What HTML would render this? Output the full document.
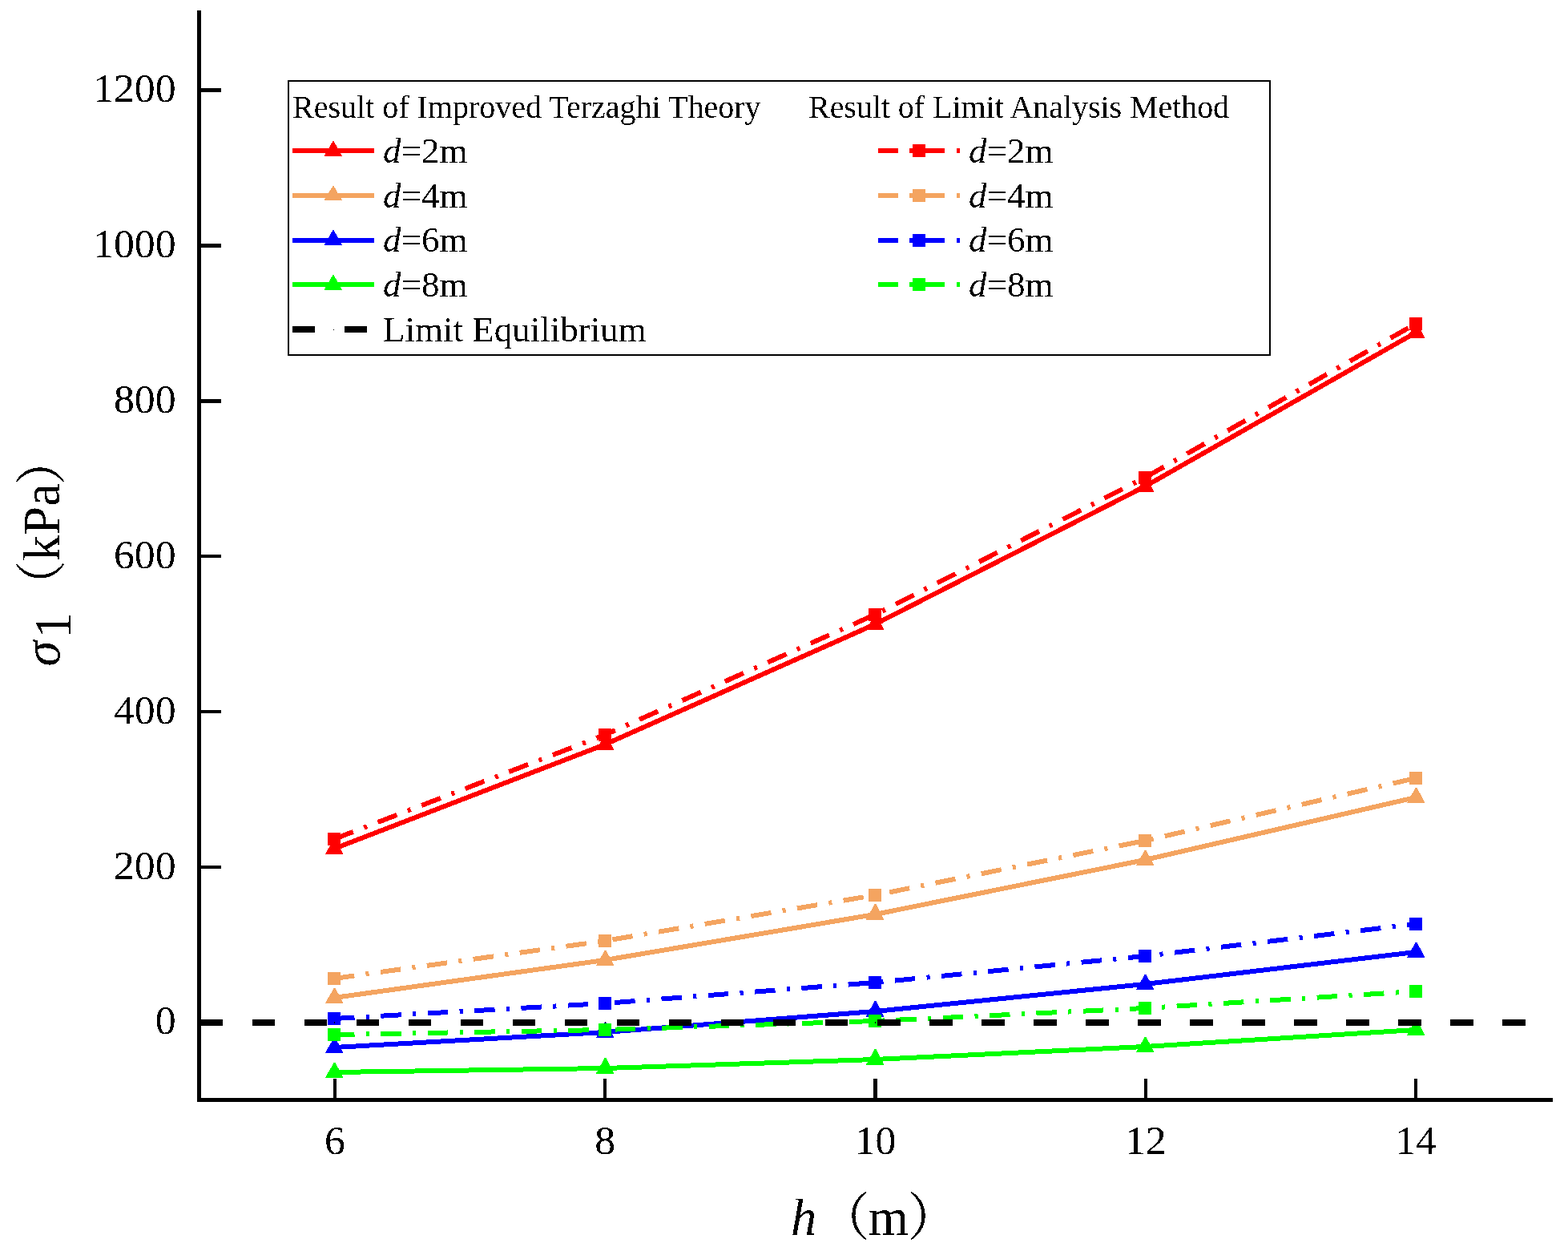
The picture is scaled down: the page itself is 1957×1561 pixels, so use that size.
<!DOCTYPE html>
<html lang="en"><head><meta charset="utf-8"><title>Surrounding rock pressure versus tunnel depth</title>
<style>html,body{margin:0;padding:0;width:1957px;height:1561px;overflow:hidden;background:#fff}svg{display:block}text{font-family:'Liberation Serif',serif;fill:#000}.i{font-style:italic}.cjk{font-family:'Liberation Serif','Noto Serif CJK SC',serif}</style></head><body>
<svg width="1957" height="1561" viewBox="0 0 1957 1561">
<defs><filter id="bin" x="0" y="0" width="1957" height="1561" filterUnits="userSpaceOnUse" color-interpolation-filters="sRGB"><feComponentTransfer><feFuncA type="discrete" tableValues="0 1"/></feComponentTransfer></filter></defs>
<rect width="1957" height="1561" fill="#fff"/>
<g shape-rendering="crispEdges" fill="#000">
<rect x="246" y="13" width="5" height="1362"/>
<rect x="246" y="1370" width="1692" height="5"/>
<rect x="251" y="110" width="25" height="5"/>
<rect x="251" y="304" width="25" height="5"/>
<rect x="251" y="498" width="25" height="5"/>
<rect x="251" y="692" width="25" height="4"/>
<rect x="251" y="886" width="25" height="4"/>
<rect x="251" y="1080" width="25" height="4"/>
<rect x="251" y="1274" width="25" height="4"/>
<rect x="416" y="1346" width="4" height="24"/>
<rect x="753" y="1346" width="4" height="24"/>
<rect x="1090" y="1346" width="5" height="24"/>
<rect x="1428" y="1346" width="4" height="24"/>
<rect x="1765" y="1346" width="4" height="24"/>
</g>
<g shape-rendering="crispEdges">
<polyline points="417,1059 755,929 1092,779 1429,607 1767,415" fill="none" stroke="#ff0000" stroke-width="6"/>
<polygon points="416.78,1047 418.59,1047 428.565,1066 405.665,1066" fill="#ff0000"/>
<polygon points="754.78,917 756.59,917 766.565,936 743.665,936" fill="#ff0000"/>
<polygon points="1091.78,767 1093.59,767 1103.565,786 1080.665,786" fill="#ff0000"/>
<polygon points="1428.78,595 1430.59,595 1440.565,614 1417.665,614" fill="#ff0000"/>
<polygon points="1766.78,403 1768.59,403 1778.565,422 1755.665,422" fill="#ff0000"/>
<polyline points="417,1245 755,1198 1092,1141 1429,1073 1767,995" fill="none" stroke="#f4a460" stroke-width="6"/>
<polygon points="416.78,1233 418.59,1233 428.565,1252 405.665,1252" fill="#f4a460"/>
<polygon points="754.78,1186 756.59,1186 766.565,1205 743.665,1205" fill="#f4a460"/>
<polygon points="1091.78,1128 1093.59,1128 1103.565,1148 1080.665,1148" fill="#f4a460"/>
<polygon points="1428.78,1061 1430.59,1061 1440.565,1080 1417.665,1080" fill="#f4a460"/>
<polygon points="1766.78,983 1768.59,983 1778.565,1002 1755.665,1002" fill="#f4a460"/>
<polyline points="417,1307 755,1288 1092,1262 1429,1228 1767,1188" fill="none" stroke="#0000ff" stroke-width="6"/>
<polygon points="416.78,1295 418.59,1295 428.565,1314 405.665,1314" fill="#0000ff"/>
<polygon points="754.78,1276 756.59,1276 766.565,1295 743.665,1295" fill="#0000ff"/>
<polygon points="1091.78,1249 1093.59,1249 1103.565,1269 1080.665,1269" fill="#0000ff"/>
<polygon points="1428.78,1216 1430.59,1216 1440.565,1235 1417.665,1235" fill="#0000ff"/>
<polygon points="1766.78,1176 1768.59,1176 1778.565,1195 1755.665,1195" fill="#0000ff"/>
<polyline points="417,1338 755,1333 1092,1322 1429,1306 1767,1285" fill="none" stroke="#00ff00" stroke-width="6"/>
<polygon points="416.78,1326 418.59,1326 428.565,1345 405.665,1345" fill="#00ff00"/>
<polygon points="754.78,1320 756.59,1320 766.565,1340 743.665,1340" fill="#00ff00"/>
<polygon points="1091.78,1309 1093.59,1309 1103.565,1329 1080.665,1329" fill="#00ff00"/>
<polygon points="1428.78,1294 1430.59,1294 1440.565,1313 1417.665,1313" fill="#00ff00"/>
<polygon points="1766.78,1273 1768.59,1273 1778.565,1292 1755.665,1292" fill="#00ff00"/>
<polyline points="417,1047 755,917 1092,767 1429,596 1767,404" fill="none" stroke="#ff0000" stroke-width="6" stroke-dasharray="25.5 14.4 4.1 14.46"/>
<rect x="409" y="1039" width="16" height="16" fill="#ff0000"/>
<rect x="747" y="909" width="16" height="16" fill="#ff0000"/>
<rect x="1084" y="759" width="16" height="16" fill="#ff0000"/>
<rect x="1421" y="588" width="16" height="16" fill="#ff0000"/>
<rect x="1759" y="396" width="16" height="16" fill="#ff0000"/>
<polyline points="417,1221 755,1174 1092,1117 1429,1049 1767,971" fill="none" stroke="#f4a460" stroke-width="6" stroke-dasharray="25.5 14.4 4.1 14.46"/>
<rect x="409" y="1213" width="16" height="16" fill="#f4a460"/>
<rect x="747" y="1166" width="16" height="16" fill="#f4a460"/>
<rect x="1084" y="1109" width="16" height="16" fill="#f4a460"/>
<rect x="1421" y="1041" width="16" height="16" fill="#f4a460"/>
<rect x="1759" y="963" width="16" height="16" fill="#f4a460"/>
<polyline points="417,1271 755,1252 1092,1226 1429,1193 1767,1153" fill="none" stroke="#0000ff" stroke-width="6" stroke-dasharray="25.5 14.4 4.1 14.46"/>
<rect x="409" y="1263" width="16" height="16" fill="#0000ff"/>
<rect x="747" y="1244" width="16" height="16" fill="#0000ff"/>
<rect x="1084" y="1218" width="16" height="16" fill="#0000ff"/>
<rect x="1421" y="1185" width="16" height="16" fill="#0000ff"/>
<rect x="1759" y="1145" width="16" height="16" fill="#0000ff"/>
<polyline points="417,1291 755,1285 1092,1274 1429,1258 1767,1237" fill="none" stroke="#00ff00" stroke-width="6" stroke-dasharray="25.5 14.4 4.1 14.46"/>
<rect x="409" y="1283" width="16" height="16" fill="#00ff00"/>
<rect x="747" y="1277" width="16" height="16" fill="#00ff00"/>
<rect x="1084" y="1266" width="16" height="16" fill="#00ff00"/>
<rect x="1421" y="1250" width="16" height="16" fill="#00ff00"/>
<rect x="1759" y="1229" width="16" height="16" fill="#00ff00"/>
<line x1="250" y1="1276" x2="1095" y2="1276" stroke="#000" stroke-width="8" stroke-dasharray="28 37"/>
<line x1="1095" y1="1276" x2="1938" y2="1276" stroke="#000" stroke-width="8" stroke-dasharray="29 36"/>
<rect x="417" y="1275" width="1" height="2" fill="#000"/>
<rect x="755" y="1275" width="1" height="2" fill="#000"/>
<rect x="1092" y="1275" width="1" height="2" fill="#000"/>
<rect x="1429" y="1275" width="1" height="2" fill="#000"/>
<rect x="1767" y="1275" width="1" height="2" fill="#000"/>
</g>
<g shape-rendering="crispEdges">
<rect x="360" y="101" width="1225" height="342" fill="#fff" stroke="#000" stroke-width="2"/>
<line x1="365" y1="188" x2="467" y2="188" stroke="#ff0000" stroke-width="6"/>
<polygon points="415.51,176 416.49,176 427.09,195 404.395,195" fill="#ff0000"/>
<line x1="1096" y1="188" x2="1198" y2="188" stroke="#ff0000" stroke-width="6" stroke-dasharray="25 14 4 15 25 15 4 100"/>
<rect x="1139" y="180" width="16" height="16" fill="#ff0000"/>
<line x1="365" y1="244" x2="467" y2="244" stroke="#f4a460" stroke-width="6"/>
<polygon points="415.51,232 416.49,232 427.09,250 404.395,250" fill="#f4a460"/>
<line x1="1096" y1="244" x2="1198" y2="244" stroke="#f4a460" stroke-width="6" stroke-dasharray="25 14 4 15 25 15 4 100"/>
<rect x="1139" y="236" width="16" height="16" fill="#f4a460"/>
<line x1="365" y1="300" x2="467" y2="300" stroke="#0000ff" stroke-width="6"/>
<polygon points="415.51,287 416.49,287 427.09,306 404.395,306" fill="#0000ff"/>
<line x1="1096" y1="300" x2="1198" y2="300" stroke="#0000ff" stroke-width="6" stroke-dasharray="25 14 4 15 25 15 4 100"/>
<rect x="1139" y="292" width="16" height="16" fill="#0000ff"/>
<line x1="365" y1="355" x2="467" y2="355" stroke="#00ff00" stroke-width="6"/>
<polygon points="415.51,343 416.49,343 427.09,362 404.395,362" fill="#00ff00"/>
<line x1="1096" y1="355" x2="1198" y2="355" stroke="#00ff00" stroke-width="6" stroke-dasharray="25 14 4 15 25 15 4 100"/>
<rect x="1139" y="347" width="16" height="16" fill="#00ff00"/>
<line x1="365" y1="411" x2="467" y2="411" stroke="#000" stroke-width="8" stroke-dasharray="28 37"/>
<rect x="416" y="411" width="1" height="1" fill="#000"/>
</g>
<g filter="url(#bin)">
<g font-size="51.7" text-anchor="end">
<text x="219.5" y="127.0">1200</text>
<text x="219.5" y="320.9">1000</text>
<text x="219.5" y="514.8">800</text>
<text x="219.5" y="708.7">600</text>
<text x="219.5" y="902.6">400</text>
<text x="219.5" y="1096.5">200</text>
<text x="219.5" y="1290.4">0</text>
</g>
<g font-size="51.7" text-anchor="middle">
<text x="418" y="1440">6</text>
<text x="755.25" y="1440">8</text>
<text x="1092.5" y="1440">10</text>
<text x="1429.75" y="1440">12</text>
<text x="1767" y="1440">14</text>
</g>
<text class="cjk" font-size="64.5" x="987" y="1541"><tspan class="i">h</tspan><tspan dx="1.9">（</tspan><tspan dx="-1.9">m</tspan><tspan dx="-1.7">）</tspan></text>
<text class="cjk" font-size="64.5" transform="translate(74 0) rotate(-90)"><tspan class="i" x="-831.5">σ</tspan><tspan x="-796.5" dy="13.5">1</tspan><tspan x="-763.5" dy="-13.5">（</tspan><tspan dx="-1">kPa</tspan><tspan dx="-2.5">）</tspan></text>
<g font-size="40">
<text x="365" y="147">Result of Improved Terzaghi Theory</text>
<text x="1009" y="147" textLength="525.1" lengthAdjust="spacing">Result of Limit Analysis Method</text>
</g>
<g font-size="45">
<text x="478" y="202.5"><tspan class="i">d</tspan>=2m</text>
<text x="1209" y="202.5"><tspan class="i">d</tspan>=2m</text>
<text x="478" y="258.5"><tspan class="i">d</tspan>=4m</text>
<text x="1209" y="258.5"><tspan class="i">d</tspan>=4m</text>
<text x="478" y="313.7"><tspan class="i">d</tspan>=6m</text>
<text x="1209" y="313.7"><tspan class="i">d</tspan>=6m</text>
<text x="478" y="369.5"><tspan class="i">d</tspan>=8m</text>
<text x="1209" y="369.5"><tspan class="i">d</tspan>=8m</text>
<text x="478" y="425.5">Limit Equilibrium</text>
</g>
</g>
</svg></body></html>
